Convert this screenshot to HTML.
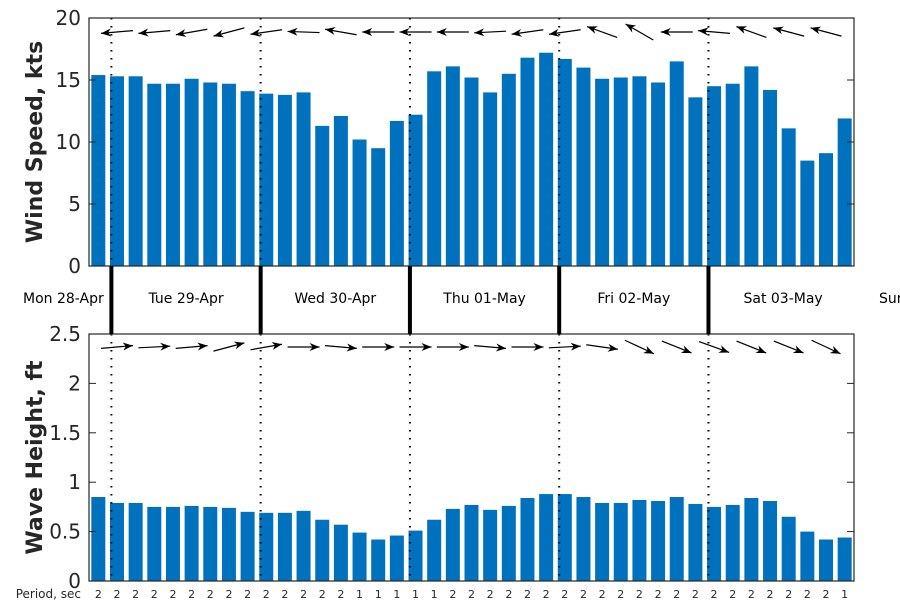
<!DOCTYPE html>
<html><head><meta charset="utf-8"><style>
body{margin:0;background:#fff;}
svg{display:block;font-family:"DejaVu Sans","Liberation Sans",sans-serif;}
</style></head><body>
<svg id="chart" width="900" height="600" viewBox="0 0 900 600" xmlns="http://www.w3.org/2000/svg">
<rect width="900" height="600" fill="#fff"/>
<g id="top"></g><g id="bottom"></g><g id="mid"></g>
</svg>
<script>
const windSpeed=[15.4,15.3,15.3,14.7,14.7,15.1,14.8,14.7,14.1,13.9,13.8,14.0,11.3,12.1,10.2,9.5,11.7,12.2,15.7,16.1,15.2,14.0,15.5,16.8,17.2,16.7,16.0,15.1,15.2,15.3,14.8,16.5,13.6,14.5,14.7,16.1,14.2,11.1,8.5,9.1,11.9];
const waveHeight=[0.85,0.79,0.79,0.75,0.75,0.76,0.75,0.74,0.70,0.69,0.69,0.71,0.62,0.57,0.49,0.42,0.46,0.51,0.62,0.73,0.77,0.72,0.76,0.84,0.88,0.88,0.85,0.79,0.79,0.82,0.81,0.85,0.78,0.75,0.77,0.84,0.81,0.65,0.50,0.42,0.44];
const periods=[2,2,2,2,2,2,2,2,2,2,2,2,2,2,1,1,1,1,1,2,2,2,2,2,2,2,2,2,2,2,2,2,2,2,2,2,2,2,2,2,1];
const windDir=[185,185,190,195,188,178,170,180,180,180,183,188,188,160,150,180,175,160,165,165];
const waveDir=[5,3,5,15,10,0,-5,0,0,0,-5,0,3,-8,-25,-22,-20,-22,-22,-25];
const dayLabels=["Mon 28-Apr","Tue 29-Apr","Wed 30-Apr","Thu 01-May","Fri 02-May","Sat 03-May","Sun 04-May"];
const windTicks=[0,5,10,15,20];
const waveTicks=[0,0.5,1,1.5,2,2.5];
const dayStart=1.2;

const NS="http://www.w3.org/2000/svg";
const L=89,R=854,N=windSpeed.length;
const step=(R-L)/N, bw=14;
const xC=i=>L+(i+0.5)*step;
function mk(tag,attrs,parent,text){const e=document.createElementNS(NS,tag);for(const k in attrs)e.setAttribute(k,attrs[k]);if(text!==undefined)e.textContent=text;parent.appendChild(e);return e;}

function panel(g,top,bot,max,vals,ticks,title,dirs,arrowY,name,fmt){
  const y=v=>bot-(v/max)*(bot-top);
  vals.forEach((v,i)=>{
    const r=mk('rect',{x:xC(i)-bw/2,y:y(v),width:bw,height:bot-y(v),fill:'#0072BD'},g);
    
    
  });
  for(let d=0;d<5;d++){
    const xd=L+(dayStart+8*d)*step;
    const ln=mk('line',{x1:xd,y1:top,x2:xd,y2:bot,stroke:'#000','stroke-width':2,'stroke-dasharray':'1.5 6.5'},g);
    
    
  }
  dirs.forEach((a,k)=>{
    const cx=xC(1.5+2*k-0.5), rad=a*Math.PI/180, len=32;
    const dx=Math.cos(rad)*len/2, dy=-Math.sin(rad)*len/2;
    const ag=mk('g',{},g);
    
    
    mk('line',{x1:cx-dx,y1:arrowY-dy,x2:cx+dx,y2:arrowY+dy,stroke:'#000','stroke-width':1.2},ag);
    const tx=cx+dx,ty=arrowY+dy,ux=dx/(len/2),uy=dy/(len/2);
    const bx=tx-ux*10,by=ty-uy*10,px=-uy,py=ux;
    mk('polygon',{points:`${tx},${ty} ${bx+px*4},${by+py*4} ${tx-ux*7},${ty-uy*7} ${bx-px*4},${by-py*4}`,fill:'#000'},ag);
  });
  ticks.forEach(t=>{
    mk('line',{x1:L,y1:y(t),x2:L+7,y2:y(t),stroke:'#262626'},g);
    mk('line',{x1:R,y1:y(t),x2:R-7,y2:y(t),stroke:'#262626'},g);
    const tl=mk('text',{x:L-8,y:y(t)+7,'text-anchor':'end','font-size':20,fill:'#262626'},g,fmt(t));
    
    
  });
  const fr=mk('rect',{x:L,y:top,width:R-L,height:bot-top,fill:'none',stroke:'#262626','stroke-width':1.2},g);
  
  
  const yt=mk('text',{x:0,y:0,transform:`translate(42,${(top+bot)/2}) rotate(-90)`,'text-anchor':'middle','font-size':22,'font-weight':'bold',fill:'#262626'},g,title);
  
  
}
panel(document.getElementById('top'),18,266,20,windSpeed,windTicks,'Wind Speed, kts',windDir,32,'wind',t=>String(t));
panel(document.getElementById('bottom'),334,581,2.5,waveHeight,waveTicks,'Wave Height, ft',waveDir,347,'wave',t=>String(t));

const mid=document.getElementById('mid');
for(let d=0;d<5;d++){
  const xd=L+(dayStart+8*d)*step;
  const s=mk('line',{x1:xd,y1:266,x2:xd,y2:334,stroke:'#000','stroke-width':4},mid);
  
  
}
dayLabels.forEach((lab,d)=>{
  const a=L+(dayStart+8*(d-1))*step, b=L+(dayStart+8*d)*step;
  let cx=(a+b)/2, anchor='middle';
  if(d===0){cx=23;anchor='start';}
  if(d===6){cx=879;anchor='start';}
  const t=mk('text',{x:cx,y:303,'text-anchor':anchor,'font-size':14,fill:'#000'},mid,lab);
  
  
});
const pl=mk('text',{x:81,y:598,'text-anchor':'end','font-size':12,fill:'#262626'},mid,'Period, sec');


periods.forEach((p,i)=>{
  const t=mk('text',{x:xC(i),y:598,'text-anchor':'middle','font-size':11,fill:'#262626'},mid,String(p));
  
  
});
</script>
</body></html>
